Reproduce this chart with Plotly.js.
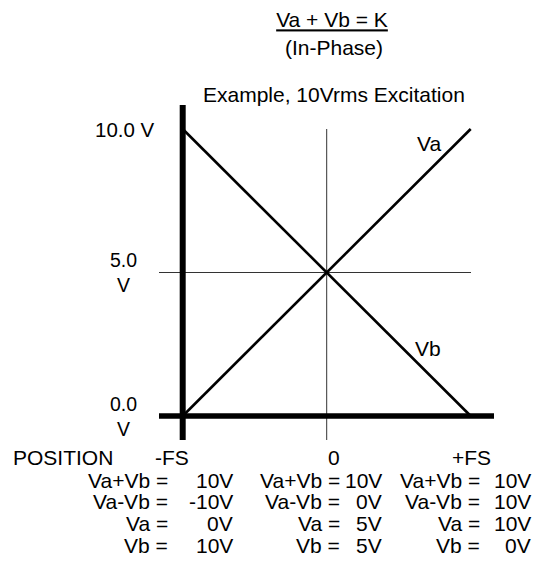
<!DOCTYPE html>
<html><head><meta charset="utf-8">
<script src="https://cdn.plot.ly/plotly-3.0.1.min.js"></script>
<style>html,body{margin:0;padding:0;background:#fff;} #chart{width:533px;height:570px;}</style>
</head><body><div id="chart"></div>
<script>
// ---- data ----
const positions = [-1, 0, 1];
const positionLabels = ['-FS', '0', '+FS'];
const vaValues = [0, 5, 10];
const vbValues = [10, 5, 0];
const sumValues = [10, 10, 10];
const diffValues = [-10, 0, 10];
const yTickVals = [0, 5, 10];
const yTickText = ['0.0<br>V', '5.0<br>V', '10.0 V'];
const rowLabels = ['Va+Vb =', 'Va-Vb =', 'Va =', 'Vb ='];

// ---- pixel layout helpers ----
const W = 533, H = 570;
const X0 = 326.7, SX = 144;   // px of x=0, px per unit
const Y0 = 416, SY = 28.7;    // px of y=0, px per volt
const px2x = p => (p - X0) / SX;
const py2y = p => (Y0 - p) / SY;
const FONT = 'Liberation Sans, Arial, Helvetica, sans-serif';

const traces = [
  {x: positions, y: vaValues, mode: 'lines', line: {color: '#000', width: 2.6}, hoverinfo: 'skip', showlegend: false},
  {x: positions, y: vbValues, mode: 'lines', line: {color: '#000', width: 2.6}, hoverinfo: 'skip', showlegend: false}
];

const shapes = [
  {type: 'line', xref: 'x', yref: 'y', layer: 'below', x0: 0, x1: 0, y0: yTickVals[2], y1: py2y(440), line: {color: '#333', width: 1}},
  {type: 'line', xref: 'x', yref: 'y', layer: 'below', x0: px2x(159), x1: px2x(471), y0: yTickVals[1], y1: yTickVals[1], line: {color: '#333', width: 1}},
  {type: 'line', xref: 'x', yref: 'y', layer: 'above', x0: positions[0], x1: positions[0], y0: py2y(105), y1: py2y(440), line: {color: '#000', width: 6}},
  {type: 'line', xref: 'x', yref: 'y', layer: 'above', x0: px2x(159), x1: px2x(494), y0: yTickVals[0], y1: yTickVals[0], line: {color: '#000', width: 5.5}}
];

const ann = [];
function txt(text, px, py, anchor, size) {
  ann.push({text: text, x: px2x(px), y: py2y(py), xref: 'x', yref: 'y', xanchor: anchor || 'center', yanchor: 'middle',
            showarrow: false, font: {family: FONT, size: size || 21, color: '#000'}, align: 'center'});
}
txt('(In-Phase)', 334, 47);
txt('Example, 10Vrms Excitation', 333.5, 94.5);
txt('Va', 429, 143);
txt('Vb', 428, 348);
// y labels
const yLabelPx = [123, 123, 124.5];
const yLabelSize = [19.5, 19.5, 20.5];
yTickVals.forEach((v, i) => { ann.push({text: yTickText[i], x: px2x(yLabelPx[i]), y: v, xref: 'x', yref: 'y', xanchor: 'center', yanchor: 'middle', showarrow: false, align: 'center', font: {family: FONT, size: yLabelSize[i], color: '#000'}}); });
// x labels
txt('POSITION', 63, 457);
const xLabelPx = [171.7, 333.5, 471.5];
positionLabels.forEach((t, i) => txt(t, xLabelPx[i], 457));
// table rows
const rowPy = [480, 501.7, 523.3, 545];
const eqRight = [170, 342, 482];
const valRight = [235, 384, 532.5];
positions.forEach((p, c) => {
  const vals = [sumValues[c], diffValues[c], vaValues[c], vbValues[c]];
  rowLabels.forEach((lab, r) => {
    txt(lab, eqRight[c], rowPy[r], 'right');
    txt(vals[r] + 'V', valRight[c], rowPy[r], 'right');
  });
});

const layout = {
  width: W, height: H,
  margin: {l: 0, r: 0, t: 0, b: 0},
  paper_bgcolor: '#fff', plot_bgcolor: '#fff',
  title: {text: '<u>Va + Vb = K</u>', x: 332 / W, xanchor: 'center', xref: 'paper', y: 1 - 20 / H, yanchor: 'middle', yref: 'container', font: {family: FONT, size: 21, color: '#000'}},
  xaxis: {range: [px2x(0), px2x(W)], visible: false, fixedrange: true},
  yaxis: {range: [py2y(H), py2y(0)], visible: false, fixedrange: true},
  shapes: shapes,
  annotations: ann,
  showlegend: false
};
Plotly.newPlot('chart', traces, layout, {displayModeBar: false, staticPlot: true});
</script>
</body></html>
